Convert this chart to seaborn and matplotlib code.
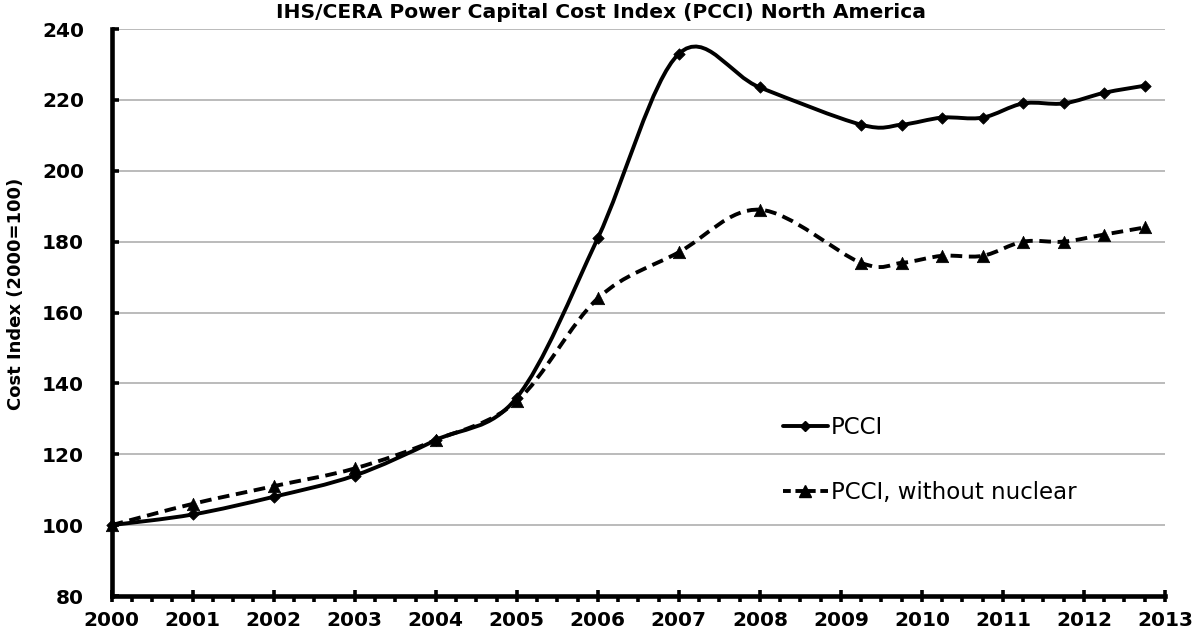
import numpy as np
import pandas as pd
import matplotlib
matplotlib.use("Agg")
import matplotlib.pyplot as plt
import seaborn as sns
from matplotlib.path import Path
from matplotlib.patches import PathPatch
from matplotlib.lines import Line2D
from matplotlib.ticker import MultipleLocator

# ---- data ----
years = [2000, 2001, 2002, 2003, 2004, 2005, 2006, 2007, 2008,
         2009.25, 2009.75, 2010.25, 2010.75, 2011.25, 2011.75, 2012.25, 2012.75]
pcci = [100, 103, 108, 114, 124, 136, 181, 233, 223.5,
        213, 213, 215, 215, 219, 219, 222, 224]
pcci_no_nuclear = [100, 106, 111, 116, 124, 135, 164, 177, 189,
                   174, 174, 176, 176, 180, 180, 182, 184]
series_names = ["PCCI", "PCCI, without nuclear"]
y_ticks = [80, 100, 120, 140, 160, 180, 200, 220, 240]
x_ticks = list(range(2000, 2014))
title = "IHS/CERA Power Capital Cost Index (PCCI) North America"
ylabel = "Cost Index (2000=100)"

sns.set_theme(style="white")
plt.rcParams["font.family"] = ["DejaVu Sans"]

W, H = 1198, 635
fig = plt.figure(figsize=(W / 100, H / 100), dpi=100)
ax = fig.add_axes([111.7 / W, 1 - 596 / H, (1165 - 111.7) / W, (596 - 29) / H])

df = pd.DataFrame({
    "year": years * 2,
    "value": pcci + pcci_no_nuclear,
    "series": [series_names[0]] * len(years) + [series_names[1]] * len(years),
})


def smooth_path(xs, ys):
    P = np.column_stack([xs, ys]).astype(float)
    n = len(P)
    verts = [P[0]]
    codes = [Path.MOVETO]
    for i in range(n - 1):
        p0 = P[i - 1] if i > 0 else P[i]
        p1 = P[i]
        p2 = P[i + 1]
        p3 = P[i + 2] if i + 2 < n else P[i + 1]
        c1 = p1 + (p2 - p0) / 6.0
        c2 = p2 - (p3 - p1) / 6.0
        verts += [c1, c2, p2]
        codes += [Path.CURVE4] * 3
    return Path(verts, codes)


LW = 2.8
ax.add_patch(PathPatch(smooth_path(years, pcci), fill=False, edgecolor="black",
                       lw=LW, joinstyle="round", capstyle="round", zorder=3, clip_on=False))
ax.add_patch(PathPatch(smooth_path(years, pcci_no_nuclear), fill=False, edgecolor="black",
                       lw=LW, linestyle=(0, (3.0, 1.7)), joinstyle="round", capstyle="butt",
                       zorder=3, clip_on=False))

d1 = df[df["series"] == series_names[0]]
d2 = df[df["series"] == series_names[1]]
sns.scatterplot(data=d1, x="year", y="value", marker="D", s=34, color="black",
                edgecolor="black", linewidth=0.5, ax=ax, zorder=4, clip_on=False, legend=False)
sns.scatterplot(data=d2, x="year", y="value", marker="^", s=80, color="black",
                edgecolor="black", linewidth=0.5, ax=ax, zorder=4, clip_on=False, legend=False)

ax.set_xlim(2000, 2013)
ax.set_ylim(80, 240)
ax.set_xlabel("")
ax.set_ylabel("")
ax.set_xticks(x_ticks)
ax.set_xticklabels([str(t) for t in x_ticks], fontweight="bold", fontsize=14.5)
ax.set_yticks(y_ticks)
ax.set_yticklabels([str(t) for t in y_ticks], fontweight="bold", fontsize=14.5)
ax.xaxis.set_minor_locator(MultipleLocator(0.25))

ax.yaxis.grid(True, color="#b5b5b5", linewidth=1.3)
ax.xaxis.grid(False)
ax.set_axisbelow(True)
for s in ["top", "right"]:
    ax.spines[s].set_visible(False)
for s in ["left", "bottom"]:
    ax.spines[s].set_visible(True)
    ax.spines[s].set_color("black")
    ax.spines[s].set_linewidth(3.3)
    ax.spines[s].set_zorder(5)

ax.tick_params(axis="x", which="major", bottom=True, direction="inout", length=9,
               width=2.6, color="black", pad=6, labelcolor="black")
ax.tick_params(axis="x", which="minor", bottom=True, direction="out", length=4,
               width=2.6, color="black")
ax.tick_params(axis="y", which="major", left=True, direction="in", length=5,
               width=2.6, color="black", pad=20, labelcolor="black")

fig.text(601 / W, 1 - 13 / H, title, ha="center", va="center",
         fontweight="bold", fontsize=14.6, color="black")
fig.text(16 / W, 1 - 294 / H, ylabel, ha="center", va="center", rotation=90,
         fontweight="bold", fontsize=13, color="black")

h1 = Line2D([], [], color="black", lw=LW, marker="D", ms=5)
h2 = Line2D([], [], color="black", lw=LW, ls=(0, (2.0, 1.2)), marker="^", ms=8)
ax.legend([h1, h2], series_names, loc="upper left",
          bbox_to_anchor=(782.7 / W, 1 - 416 / H), bbox_transform=fig.transFigure,
          frameon=False, handlelength=1.97, handletextpad=0.12, labelspacing=1.85,
          fontsize=16.5, borderpad=0, borderaxespad=0, labelcolor="black")

fig.savefig("out.png", dpi=100)
